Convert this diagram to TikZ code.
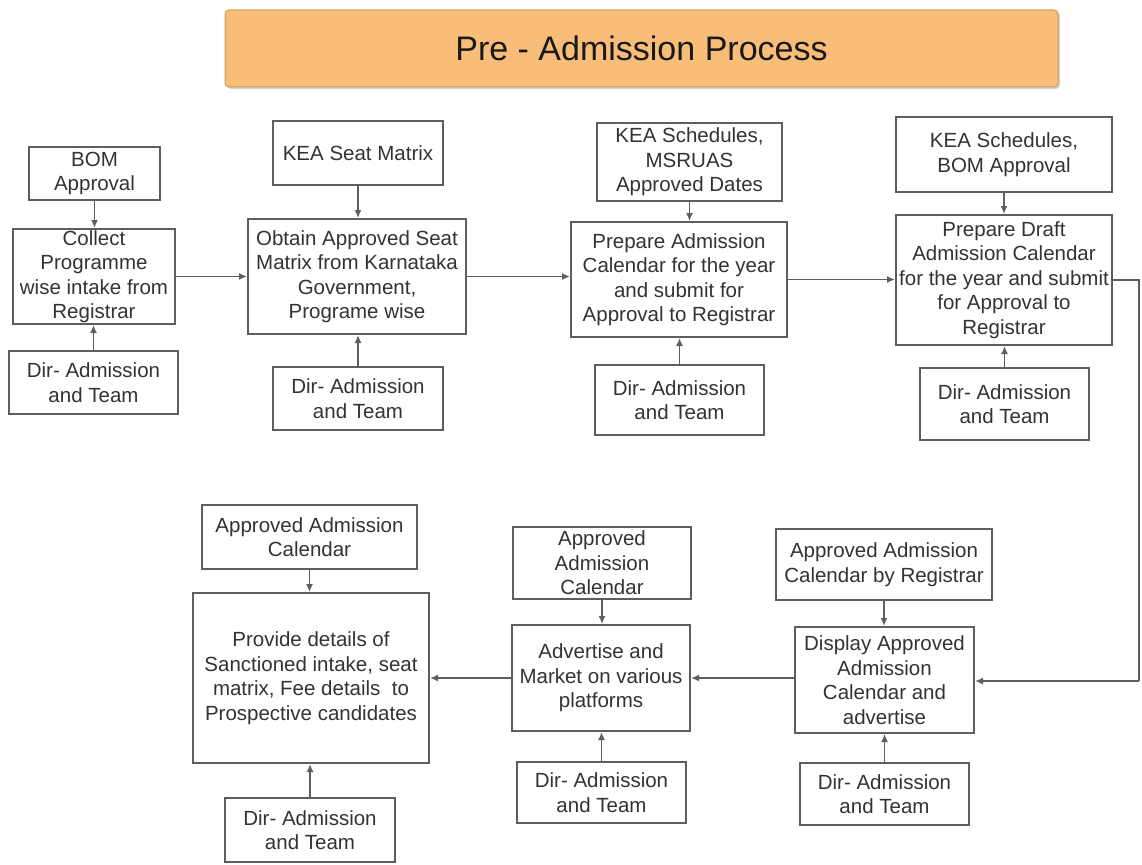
\documentclass[tikz,border=0pt]{standalone}
\usepackage{fontspec}
\setmainfont{Liberation Sans}
\usetikzlibrary{arrows.meta,shadows}
\definecolor{txt}{HTML}{333333}
\definecolor{edge}{HTML}{5E5E5E}
\definecolor{titlefill}{HTML}{F8BD78}
\definecolor{titleedge}{HTML}{D49A55}
\begin{document}
\begin{tikzpicture}[x=1pt,y=-1pt,
  bx/.style={draw=edge,line width=2pt,fill=white,align=center,inner sep=0pt,text=txt,
    font=\fontsize{20.5}{24.5}\selectfont},
  arr/.style={draw=edge,line width=1.8pt,-{Latex[length=8pt,width=7pt]}},
  ln/.style={draw=edge,line width=1.8pt}]
\useasboundingbox[fill=white] (0,0) rectangle (1142,864);

% title
\node[draw=titleedge,line width=1pt,fill=titlefill,rounded corners=4pt,
  drop shadow={shadow xshift=2pt,shadow yshift=-2pt,opacity=0.35},
  minimum width=833pt,minimum height=77pt,inner sep=0pt,
  font=\fontsize{34}{40}\selectfont,text=black!90] (title) at (641.5,48.5) {Pre - Admission Process};

% row 1
\node[bx,minimum width=131pt,minimum height=53pt] (bom) at (94.5,173.5) {BOM\\Approval};
\node[bx,minimum width=162pt,minimum height=95pt] (collect) at (94,276.5) {Collect\\Programme\\wise intake from\\Registrar};
\node[bx,minimum width=169pt,minimum height=63pt] (dira) at (93.5,382.5) {Dir- Admission\\and Team};

\node[bx,minimum width=170pt,minimum height=64pt] (keaa) at (358,153) {KEA Seat Matrix};
\node[bx,minimum width=218pt,minimum height=115pt] (obtain) at (357,276.5) {Obtain Approved Seat\\Matrix from Karnataka\\Government,\\Programe wise};
\node[bx,minimum width=170pt,minimum height=63pt] (dirb) at (358,398.5) {Dir- Admission\\and Team};

\node[bx,minimum width=185pt,minimum height=78pt] (keab) at (689.5,162) {KEA Schedules,\\MSRUAS\\Approved Dates};
\node[bx,minimum width=216pt,minimum height=115pt] (prepare) at (679,279.5) {Prepare Admission\\Calendar for the year\\and submit for\\Approval to Registrar};
\node[bx,minimum width=169pt,minimum height=70pt] (dirc) at (679.5,400) {Dir- Admission\\and Team};

\node[bx,minimum width=216pt,minimum height=75pt] (keac) at (1004,154.5) {KEA Schedules,\\BOM Approval};
\node[bx,minimum width=216pt,minimum height=130pt] (draft) at (1004,280) {Prepare Draft\\Admission Calendar\\for the year and submit\\for Approval to\\Registrar};
\node[bx,minimum width=169pt,minimum height=72pt] (dird) at (1004.5,404) {Dir- Admission\\and Team};

% row 2
\node[bx,minimum width=216pt,minimum height=71pt] (apprc) at (884,564.5) {Approved Admission\\Calendar by Registrar};
\node[bx,minimum width=179pt,minimum height=106pt] (display) at (884.5,680) {Display Approved\\Admission\\Calendar and\\advertise};
\node[bx,minimum width=169pt,minimum height=62pt] (dirg) at (884.5,794) {Dir- Admission\\and Team};

\node[bx,minimum width=178pt,minimum height=72pt] (apprb) at (602,563) {Approved\\Admission\\Calendar};
\node[bx,minimum width=178pt,minimum height=106pt] (advert) at (601,678) {Advertise and\\Market on various\\platforms};
\node[bx,minimum width=169pt,minimum height=61pt] (dirf) at (601.5,792.5) {Dir- Admission\\and Team};

\node[bx,minimum width=215pt,minimum height=64pt] (appra) at (309.5,537) {Approved Admission\\Calendar};
\node[bx,minimum width=236pt,minimum height=170pt] (provide) at (311,678) {Provide details of\\Sanctioned intake, seat\\matrix, Fee details\ \ to\\Prospective candidates};
\node[bx,minimum width=170pt,minimum height=64pt] (dire) at (310,830) {Dir- Admission\\and Team};

% vertical inputs
\foreach \s/\t in {bom/collect,keaa/obtain,keab/prepare,keac/draft,apprc/display,apprb/advert,appra/provide}
  \draw[arr] (\s.south) -- (\s.south |- \t.north);
\foreach \s/\t in {dira/collect,dirb/obtain,dirc/prepare,dird/draft,dirg/display,dirf/advert,dire/provide}
  \draw[arr] (\s.north) -- (\s.north |- \t.south);

% main flow
\draw[arr] (collect.east) -- (collect.east -| obtain.west);
\draw[arr] (obtain.east) -- (obtain.east -| prepare.west);
\draw[arr] (prepare.east) -- (prepare.east -| draft.west);
\coordinate (rt) at (1139,280);
\coordinate (rb) at (1139,681);
\draw[ln] (draft.east) -- (rt) -- (rb);
\draw[arr] (rb) -- (rb -| display.east);
\draw[arr] (advert.east -| display.west) -- (advert.east);
\draw[arr] (advert.west) -- (advert.west -| provide.east);
\end{tikzpicture}
\end{document}
